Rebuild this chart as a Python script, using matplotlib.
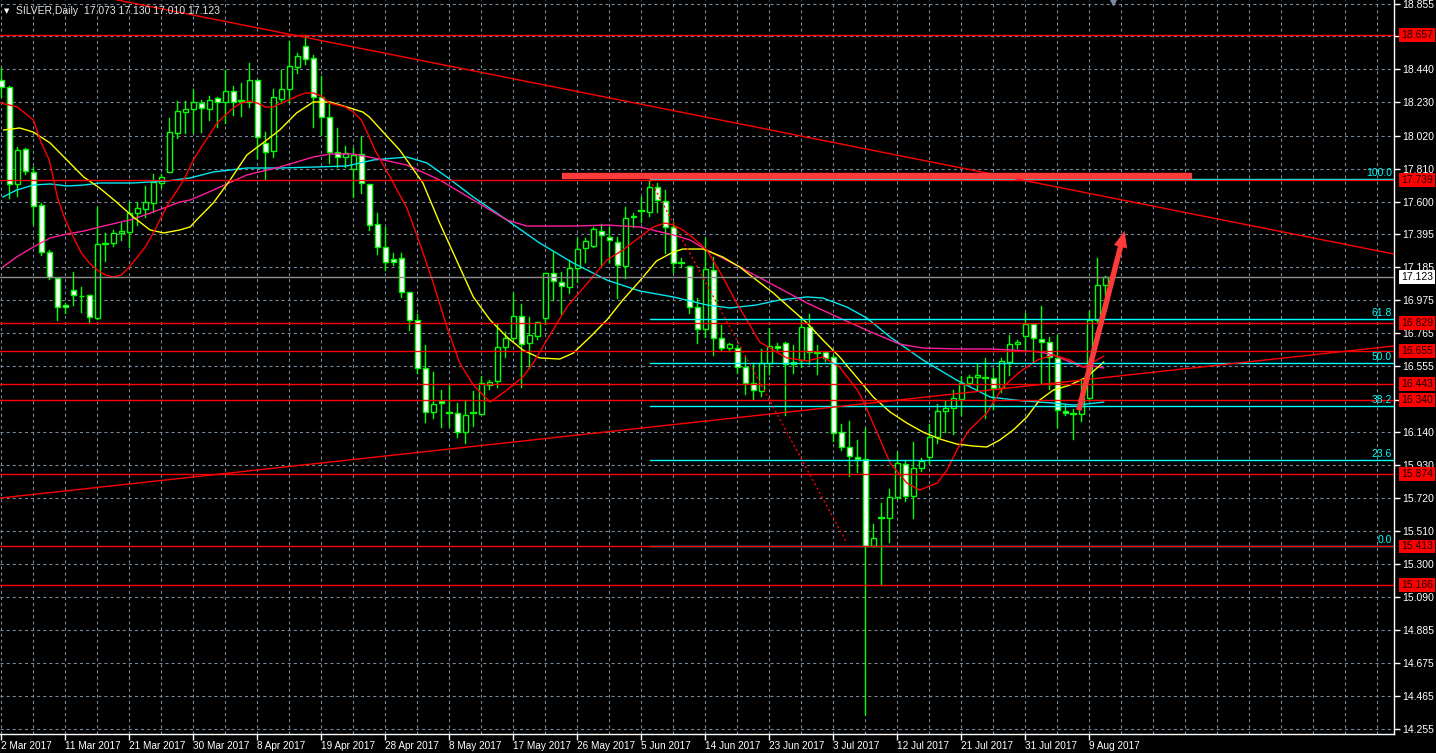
import matplotlib
matplotlib.use("Agg")
import matplotlib.pyplot as plt
from matplotlib.patches import Rectangle, FancyArrowPatch

plt.rcParams['lines.scale_dashes'] = False
plt.rcParams['font.family'] = ['Liberation Sans', 'DejaVu Sans']

# daily candles, bar index 0 = 2 Mar 2017
opens = [18.372, 18.328, 17.713, 17.935, 17.789, 17.579, 17.281, 17.116, 16.945, 17.040,
         17.004, 17.008, 16.862, 17.333, 17.338, 17.402, 17.408, 17.528, 17.554, 17.592,
         17.719, 17.789, 18.036, 18.169, 18.188, 18.226, 18.188, 18.258, 18.233, 18.303,
         18.240, 18.233, 18.372, 17.973, 17.922, 18.252, 18.315, 18.455, 18.588, 18.512,
         18.265, 18.138, 17.916, 17.884, 17.808, 17.903, 17.713, 17.459, 17.313, 17.237,
         17.243, 17.027, 16.850, 16.545, 16.266, 16.336, 16.261, 16.260, 16.139, 16.259,
         16.253, 16.437, 16.463, 16.678, 16.735, 16.875, 16.704, 16.748, 16.862, 17.148,
         17.091, 17.059, 17.180, 17.306, 17.319, 17.414, 17.376, 17.345, 17.192, 17.503,
         17.540, 17.535, 17.694, 17.605, 17.440, 17.212, 17.192, 16.932, 16.793, 17.167,
         16.735, 16.672, 16.672, 16.551, 16.450, 16.399, 16.577, 16.685, 16.704, 16.570,
         16.596, 16.805, 16.641, 16.647, 16.615, 16.139, 16.044, 15.980, 15.968, 15.416,
         15.594, 15.593, 15.727, 15.936, 15.733, 15.911, 15.980, 16.107, 16.272, 16.291,
         16.348, 16.450, 16.488, 16.483, 16.482, 16.418, 16.583, 16.697, 16.748, 16.824,
         16.729, 16.710, 16.609, 16.272, 16.254, 16.253, 16.355, 16.850, 17.073]
highs = [18.449, 18.334, 17.947, 17.941, 17.820, 17.592, 17.294, 17.116, 16.958, 17.154,
         17.059, 17.008, 17.567, 17.402, 17.421, 17.465, 17.598, 17.598, 17.700, 17.776,
         17.776, 18.131, 18.239, 18.239, 18.315, 18.246, 18.271, 18.262, 18.436, 18.334,
         18.353, 18.480, 18.372, 18.042, 18.315, 18.436, 18.620, 18.544, 18.657, 18.531,
         18.398, 18.226, 18.068, 17.954, 17.941, 18.011, 17.713, 17.528, 17.440, 17.275,
         17.275, 17.027, 16.888, 16.691, 16.520, 16.405, 16.444, 16.323, 16.336, 16.399,
         16.494, 16.469, 16.831, 16.774, 17.021, 16.951, 16.869, 16.837, 17.148, 17.287,
         17.154, 17.230, 17.370, 17.370, 17.440, 17.459, 17.440, 17.376, 17.567, 17.528,
         17.630, 17.739, 17.719, 17.674, 17.471, 17.243, 17.192, 16.989, 17.370, 17.249,
         16.818, 16.704, 16.691, 16.615, 16.577, 16.666, 16.799, 16.704, 16.710, 16.691,
         16.869, 16.888, 16.691, 16.647, 16.628, 16.190, 16.209, 16.088, 16.164, 15.555,
         15.689, 15.777, 16.012, 15.961, 16.076, 15.974, 16.190, 16.317, 16.336, 16.405,
         16.494, 16.501, 16.570, 16.609, 16.545, 16.609, 16.754, 16.723, 16.894, 16.831,
         16.938, 16.742, 16.754, 16.310, 16.285, 16.475, 16.907, 17.243, 17.130]
lows = [18.265, 17.624, 17.636, 17.776, 17.459, 17.262, 17.110, 16.850, 16.894, 16.945,
        16.900, 16.831, 16.856, 17.224, 17.319, 17.357, 17.313, 17.452, 17.503, 17.535,
        17.694, 17.789, 18.004, 18.036, 18.036, 18.042, 18.119, 18.074, 18.100, 18.150,
        18.144, 18.201, 17.878, 17.744, 17.884, 18.226, 18.233, 18.417, 18.474, 18.074,
        18.023, 17.846, 17.820, 17.820, 17.630, 17.655, 17.421, 17.268, 17.167, 17.199,
        16.996, 16.786, 16.513, 16.202, 16.228, 16.171, 16.177, 16.107, 16.069, 16.177,
        16.253, 16.412, 16.425, 16.615, 16.723, 16.425, 16.545, 16.729, 16.824, 16.977,
        16.888, 17.021, 17.091, 17.218, 17.313, 17.199, 17.218, 16.989, 17.116, 17.440,
        17.471, 17.509, 17.535, 17.275, 17.154, 17.186, 16.894, 16.704, 16.742, 16.628,
        16.659, 16.653, 16.513, 16.380, 16.348, 16.367, 16.507, 16.659, 16.247, 16.513,
        16.551, 16.570, 16.507, 16.590, 16.082, 16.025, 15.860, 15.885, 14.350, 15.416,
        15.166, 15.441, 15.714, 15.701, 15.593, 15.892, 15.942, 16.069, 16.139, 16.126,
        16.247, 16.437, 16.405, 16.228, 16.285, 16.393, 16.501, 16.672, 16.659, 16.583,
        16.450, 16.412, 16.171, 16.247, 16.095, 16.209, 16.342, 16.837, 17.010]
closes = [18.328, 17.713, 17.928, 17.795, 17.573, 17.281, 17.122, 16.932, 16.932, 17.008,
          17.000, 16.869, 17.332, 17.331, 17.402, 17.414, 17.528, 17.560, 17.598, 17.725,
          17.757, 18.042, 18.176, 18.188, 18.233, 18.195, 18.246, 18.233, 18.303, 18.233,
          18.238, 18.372, 18.011, 17.916, 18.265, 18.315, 18.461, 18.525, 18.506, 18.265,
          18.138, 17.916, 17.884, 17.909, 17.897, 17.719, 17.452, 17.313, 17.218, 17.218,
          17.027, 16.850, 16.545, 16.266, 16.317, 16.323, 16.259, 16.139, 16.247, 16.261,
          16.450, 16.456, 16.678, 16.735, 16.875, 16.697, 16.754, 16.837, 17.148, 17.097,
          17.065, 17.180, 17.300, 17.351, 17.427, 17.389, 17.357, 17.199, 17.497, 17.509,
          17.542, 17.694, 17.611, 17.440, 17.211, 17.210, 16.932, 16.793, 17.173, 16.735,
          16.672, 16.697, 16.551, 16.450, 16.405, 16.577, 16.685, 16.672, 16.570, 16.583,
          16.805, 16.647, 16.639, 16.609, 16.133, 16.044, 15.987, 15.968, 15.413, 15.466,
          15.592, 15.727, 15.942, 15.733, 15.911, 15.955, 16.107, 16.272, 16.291, 16.355,
          16.450, 16.488, 16.501, 16.481, 16.418, 16.590, 16.697, 16.710, 16.824, 16.735,
          16.710, 16.615, 16.279, 16.260, 16.252, 16.355, 16.850, 17.072, 17.123]

# moving averages: (bar, price)
ma_red_x = [0, 2, 4, 5, 6, 7, 8, 9, 10, 11, 12, 13, 14, 15, 16, 17, 18, 19, 20, 21, 22, 23, 24, 25,
            26, 27, 28, 29, 30, 31, 32, 33, 34, 35, 36, 37, 38, 39, 40, 41, 42, 43, 44, 45, 46, 46.7,
            48.6, 50.7, 52.3, 54, 55.7, 57.3, 59, 61.1, 63.2, 65.2, 66.5, 68.2, 70.7, 73.6, 75.7,
            77.7, 79.8, 81.5, 83, 84, 85.2, 86.5, 88.2, 90.2, 91.9, 93.2, 94.8, 96.5, 98.2, 100.7,
            102.7, 104.8, 107, 107.7, 109.5, 111.1, 113.2, 114.8, 117, 118.2, 119.8, 121, 123.2,
            125.2, 127.3, 129.5, 131.5, 133.6, 135.2, 136.5, 137.8]
ma_red_y = [18.226, 18.201, 18.119, 17.973, 17.865, 17.630, 17.484, 17.376, 17.275, 17.211, 17.167,
            17.135, 17.122, 17.135, 17.186, 17.249, 17.313, 17.402, 17.503, 17.598, 17.674, 17.757,
            17.865, 17.947, 18.023, 18.100, 18.150, 18.195, 18.226, 18.239, 18.226, 18.201, 18.201,
            18.226, 18.246, 18.271, 18.290, 18.290, 18.271, 18.226, 18.214, 18.201, 18.169, 18.119,
            18.011, 17.928, 17.757, 17.560, 17.338, 17.084, 16.805, 16.577, 16.437, 16.329, 16.405,
            16.488, 16.577, 16.723, 16.932, 17.103, 17.230, 17.294, 17.376, 17.440, 17.465, 17.452,
            17.421, 17.370, 17.294, 17.122, 16.958, 16.850, 16.710, 16.659, 16.609, 16.590, 16.615,
            16.551, 16.405, 16.342, 16.133, 15.942, 15.815, 15.771, 15.815, 15.898, 16.057, 16.152,
            16.260, 16.425, 16.520, 16.596, 16.628, 16.596, 16.551, 16.583, 16.621]
ma_yellow_x = [0.3, 2.3, 4, 6.1, 8.2, 10.3, 12.3, 14.4, 16.5, 18.6, 20.3, 22.3, 23.6, 24.4, 26.5,
               28.6, 30.7, 32.7, 34.8, 36.9, 39, 41.1, 43.2, 45.2, 46, 49.8, 52.7, 54.8, 56.9, 59,
               61.1, 63.2, 65.2, 67.3, 69.8, 71.5, 73.6, 75.7, 77.7, 79.8, 81.9, 84, 85.2, 87.7,
               90.2, 92.3, 94.4, 96.5, 98.6, 100.7, 102.7, 104.8, 106.9, 109, 111.1, 113.2, 115.2,
               117.3, 119.4, 121.5, 123.2, 124.8, 126.5, 128.2, 129.8, 131.5, 133.6, 135.7, 137.8]
ma_yellow_y = [18.055, 18.068, 18.042, 17.973, 17.865, 17.757, 17.687, 17.598, 17.503, 17.421,
               17.402, 17.421, 17.440, 17.484, 17.592, 17.738, 17.897, 17.973, 18.055, 18.163,
               18.233, 18.233, 18.201, 18.169, 18.138, 17.928, 17.719, 17.465, 17.230, 16.996,
               16.850, 16.742, 16.659, 16.609, 16.602, 16.640, 16.742, 16.850, 16.977, 17.097,
               17.224, 17.281, 17.300, 17.300, 17.249, 17.186, 17.103, 17.021, 16.926, 16.831,
               16.723, 16.615, 16.488, 16.361, 16.266, 16.196, 16.139, 16.095, 16.063, 16.050,
               16.044, 16.088, 16.152, 16.234, 16.342, 16.405, 16.437, 16.488, 16.583]
ma_pink_x = [0.2, 1.9, 4, 6.1, 8.2, 10.3, 12.3, 14.4, 16.5, 18.6, 20.7, 22.3, 23.6, 26.5, 30.7,
             34.8, 36.9, 39, 41.1, 44, 46.5, 50.7, 54.8, 59, 63.2, 65.7, 71.5, 75.7, 79.8, 84,
             86.1, 88.2, 92.3, 96.5, 100.7, 104.8, 109, 112.3, 115.2, 119.4, 123.6, 126.5, 129.8,
             131.5, 133.6, 135.2, 136.5, 137.8]
ma_pink_y = [17.186, 17.249, 17.313, 17.370, 17.395, 17.414, 17.440, 17.465, 17.490, 17.528,
             17.567, 17.598, 17.611, 17.674, 17.770, 17.820, 17.852, 17.884, 17.903, 17.903,
             17.878, 17.833, 17.738, 17.611, 17.484, 17.446, 17.446, 17.452, 17.440, 17.389,
             17.357, 17.294, 17.186, 17.072, 16.958, 16.862, 16.767, 16.697, 16.672, 16.666,
             16.666, 16.659, 16.647, 16.628, 16.583, 16.551, 16.557, 16.545]
ma_cyan_x = [0.2, 1.9, 4, 6.1, 8.2, 10.3, 12.3, 16.5, 20.7, 23.6, 26.5, 30.7, 34.8, 39, 43.2,
             46.5, 50.7, 53.2, 55.7, 59, 63.2, 67.3, 71.5, 75.7, 79.8, 84, 88.2, 91.1, 94.4,
             97.3, 100.7, 102.7, 105.7, 108.2, 111.1, 115.2, 119.4, 123.6, 125.7, 127.8, 131.5,
             134, 135.7, 137.8]
ma_cyan_y = [17.630, 17.674, 17.706, 17.713, 17.700, 17.706, 17.719, 17.719, 17.732, 17.751,
             17.789, 17.814, 17.814, 17.820, 17.827, 17.865, 17.884, 17.846, 17.757, 17.630,
             17.484, 17.338, 17.211, 17.103, 17.034, 16.996, 16.945, 16.926, 16.945, 16.977,
             16.996, 16.989, 16.932, 16.862, 16.742, 16.596, 16.469, 16.361, 16.348, 16.336,
             16.323, 16.310, 16.317, 16.329]

# axis labels
date_labels = ['2 Mar 2017', '11 Mar 2017', '21 Mar 2017', '30 Mar 2017', '8 Apr 2017',
               '19 Apr 2017', '28 Apr 2017', '8 May 2017', '17 May 2017', '26 May 2017',
               '5 Jun 2017', '14 Jun 2017', '23 Jun 2017', '3 Jul 2017', '12 Jul 2017',
               '21 Jul 2017', '31 Jul 2017', '9 Aug 2017']
price_grid = [18.855, 18.650, 18.440, 18.230, 18.020, 17.810, 17.600, 17.395, 17.185, 16.975,
              16.765, 16.555, 16.345, 16.140, 15.930, 15.720, 15.510, 15.300, 15.090, 14.885,
              14.675, 14.465, 14.255]
hidden_price_labels = [18.650, 16.345]

# drawn objects
red_levels = [18.657, 17.739, 16.829, 16.655, 16.443, 16.340, 15.874, 15.413, 15.166]
bid_price = 17.123
fib_high = 17.745
fib_low = 15.413
fib_ratios = [100.0, 61.8, 50.0, 38.2, 23.6, 0.0]
fib_start_bar = 81.1
down_trend = [(36.5, 18.658), (174.1, 17.268)]
up_trend = [(-0.16, 15.720), (174.1, 16.685)]
dotted_trend = [(81.1, 17.738), (105.7, 15.435)]
resistance_bar = [(70.1, 17.763), (148.8, 17.763)]
arrow_pts = [(134.6, 16.260), (140.5, 17.433)]

green = '#00ff00'
grid_c = '#778899'
red_c = '#ff0000'
fib_c = '#00ffff'

fig = plt.figure(figsize=(14.36, 7.53), dpi=100)
fig.patch.set_facecolor('black')
ax = fig.add_axes([0, 19 / 753, 1394 / 1436, 734 / 753])
ax.set_facecolor('black')
ax.set_xlim(-0.1625, 174.09)
ax.set_ylim(14.223, 18.880)

# grid
for k in range(0, 175, 4):
    ax.axvline(k, color=grid_c, lw=0.8, dashes=(2.2, 2.2), zorder=0)
for p in price_grid:
    ax.axhline(p, color=grid_c, lw=0.8, dashes=(2.2, 2.2), zorder=0)

# fibonacci (under the red levels)
for r in fib_ratios:
    lv = fib_low + (fib_high - fib_low) * r / 100
    ax.plot([fib_start_bar, 174.09], [lv, lv], color=fib_c, lw=1.0, zorder=3.8)
    ax.annotate('%.1f' % r, xy=(1, lv), xycoords=('axes fraction', 'data'),
                xytext=(-2, 1), textcoords='offset pixels', ha='right', va='bottom',
                color=fib_c, fontsize=7.5, annotation_clip=False, zorder=6)

# horizontal levels
for lv in red_levels:
    ax.axhline(lv, color=red_c, lw=1.0, zorder=4)
ax.axhline(bid_price, color='#8c8c8c', lw=1.0, zorder=4)

# trend lines
ax.axline(down_trend[0], down_trend[1], color=red_c, lw=1.0, zorder=4)
ax.axline(up_trend[0], up_trend[1], color=red_c, lw=1.0, zorder=4)
ax.plot([p[0] for p in dotted_trend], [p[1] for p in dotted_trend], color=red_c, lw=1.0,
        dashes=(1.5, 2.0), zorder=4)
ax.plot([p[0] for p in resistance_bar], [p[1] for p in resistance_bar], color='#ff3a3a',
        lw=4.6, solid_capstyle='butt', zorder=5)

# moving averages
ax.plot(ma_cyan_x, ma_cyan_y, color='#00e8f0', lw=1.0, zorder=3)
ax.plot(ma_pink_x, ma_pink_y, color='#ff1e9e', lw=1.0, zorder=3)
ax.plot(ma_yellow_x, ma_yellow_y, color='#ffff00', lw=1.0, zorder=3)
ax.plot(ma_red_x, ma_red_y, color=red_c, lw=1.0, zorder=3)

# candles
bw = 0.62
for k in range(len(opens)):
    o, h, l, c = opens[k], highs[k], lows[k], closes[k]
    ax.plot([k, k], [l, h], color=green, lw=1.0, zorder=2)
    body = abs(c - o)
    if body < 0.004:
        ax.plot([k - bw / 2, k + bw / 2], [o, o], color=green, lw=1.6, zorder=2.5)
    else:
        face = 'black' if c >= o else 'white'
        ax.add_patch(Rectangle((k - bw / 2, min(o, c)), bw, body, facecolor=face,
                               edgecolor=green, lw=1.0, zorder=2.5))

# arrow
ax.add_patch(FancyArrowPatch(arrow_pts[0], arrow_pts[1],
                             arrowstyle='simple,tail_width=0.28,head_width=0.7,head_length=0.85',
                             mutation_scale=14, color='#ff3a3a', lw=0, zorder=6))

# small shift marker at top
ax.plot([139], [18.868], marker='v', ms=5, color='#7a88a8', zorder=6, clip_on=False)

# axes styling
for s in ['top', 'left']:
    ax.spines[s].set_visible(False)
for s in ['right', 'bottom']:
    ax.spines[s].set_color('white')
    ax.spines[s].set_linewidth(1.0)
ax.yaxis.tick_right()
ax.set_yticks(price_grid)
ax.set_yticklabels(['' if p in hidden_price_labels else '%.3f' % p for p in price_grid])
ax.tick_params(axis='y', colors='white', length=4, width=1, pad=2, labelsize=7.5)
ax.set_xticks(range(0, 8 * len(date_labels), 8))
ax.set_xticklabels(date_labels)
for t in ax.get_xticklabels():
    t.set_horizontalalignment('left')
ax.tick_params(axis='x', colors='white', length=4, width=1, pad=1, labelsize=7.2)

# price labels on right axis
for lv in red_levels:
    ax.annotate('%.3f' % lv, xy=(1, lv), xycoords=('axes fraction', 'data'),
                xytext=(7, 0), textcoords='offset pixels', ha='left', va='center',
                color='#1a0000', fontsize=7.5, annotation_clip=False, zorder=10,
                bbox=dict(boxstyle='square,pad=0.18', fc='#ff0000', ec='none'))
ax.annotate('%.3f' % bid_price, xy=(1, bid_price), xycoords=('axes fraction', 'data'),
            xytext=(7, 0), textcoords='offset pixels', ha='left', va='center',
            color='black', fontsize=7.5, annotation_clip=False, zorder=10,
            bbox=dict(boxstyle='square,pad=0.18', fc='white', ec='none'))

# header
fig.text(4 / 1436, 1 - 11 / 753, '\u25bc', color='white', fontsize=5,
         family=['DejaVu Sans'], va='center')
fig.text(16 / 1436, 1 - 11 / 753,
         'SILVER,Daily  %.3f %.3f %.3f %.3f' % (opens[-1], highs[-1], lows[-1], closes[-1]),
         color='#e8e8e8', fontsize=7.5, va='center')

fig.savefig('out.png', dpi=100, facecolor='black')
